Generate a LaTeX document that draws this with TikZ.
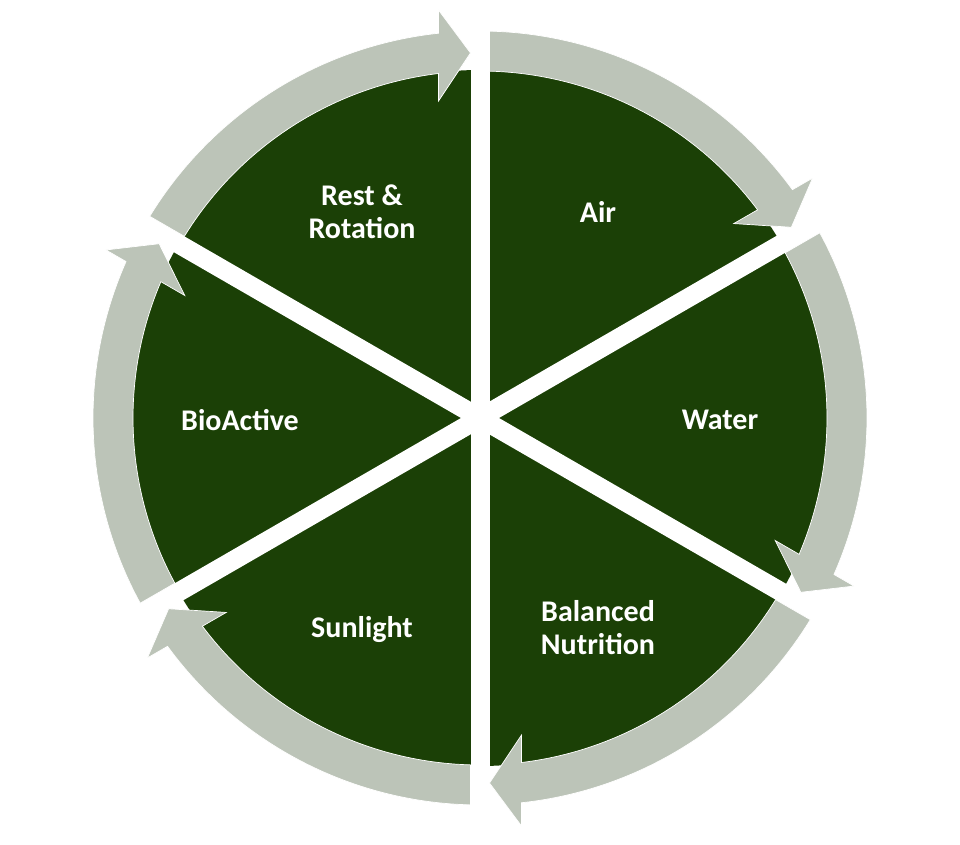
\documentclass[tikz,border=0pt]{standalone}
\usepackage{fontspec}
\setmainfont{Carlito}
\usetikzlibrary{calc}
\definecolor{leaf}{RGB}{27,64,6}
\definecolor{bandgray}{RGB}{188,196,184}
\tikzset{
  arrowband/.style={fill=bandgray, draw=white, line width=0.7pt, line join=miter},
  gapline/.style={draw=white, line width=19pt},
  lbl/.style={text=white, font=\bfseries\fontsize{30}{33}\selectfont, align=center}
}
\begin{document}
\begin{tikzpicture}[x=1pt,y=1pt]
\useasboundingbox (-480,-426) rectangle (480,418);
% green disk
\fill[leaf] (0,0) coordinate (ctr) circle[radius=348];
% gaps
\foreach \t in {90,30,-30}{
  \draw[gapline] ($(ctr)+(\t:352)$) -- ($(ctr)+({\t+180}:352)$);
}
% arrows (clockwise), each ending at angle \b
\foreach \b in {90,30,-30,-90,-150,-210}{
  \pgfmathsetmacro\a{\b+60}
  \fill[arrowband] ({\a-1.41}:387)
    arc[start angle={\a-1.41}, end angle={\b+6.155}, radius=387]
    -- ($(\b:408)+({\b+90}:41.5)$)
    -- ($(\b:365)+({\b+90}:9.5)$)
    -- ($(\b:317)+({\b+90}:41.5)$)
    -- ({\b+6.87}:347)
    arc[start angle={\b+6.87}, end angle={\a-1.57}, radius=347]
    -- cycle;
}
% labels
\node[lbl] (air) at (118,206) {Air};
\node[lbl] (water) at (240,-2) {Water};
\node[lbl] (nutr) at (118,-210) {Balanced\\Nutrition};
\node[lbl] (sun) at (-118,-212) {Sunlight};
\node[lbl] (bio) at (-240,-2) {BioActive};
\node[lbl] (rest) at (-118,206) {Rest \&\\Rotation};
\end{tikzpicture}
\end{document}
